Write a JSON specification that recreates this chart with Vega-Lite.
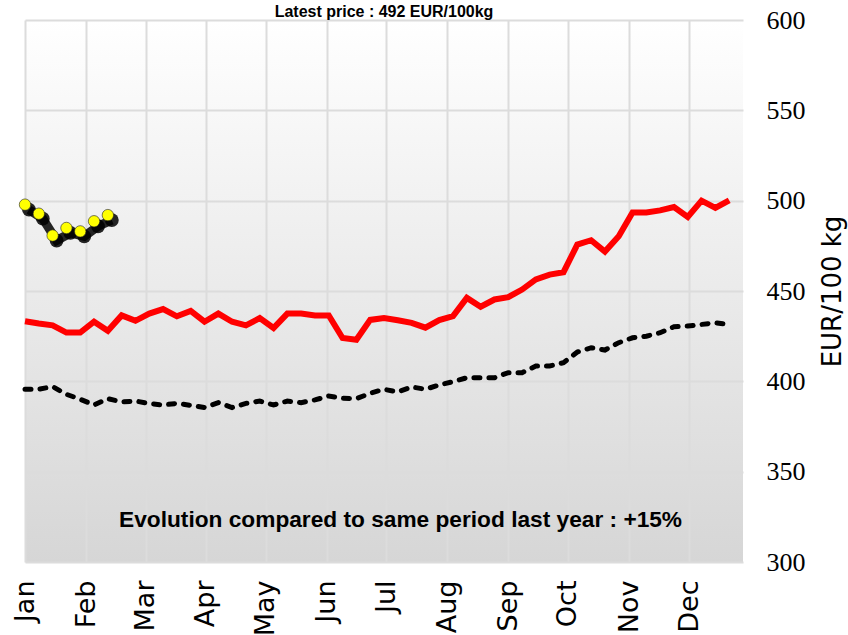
{
  "$schema": "https://vega.github.io/schema/vega-lite/v6.json",
  "width": 718,
  "height": 542,
  "autosize": {"type": "none"},
  "padding": {"left": 25, "top": 20, "right": 105, "bottom": 73},
  "background": "#ffffff",
  "title": {
    "text": "Latest price : 492 EUR/100kg",
    "font": "Liberation Sans",
    "fontWeight": "bold",
    "fontSize": 16,
    "color": "#000000",
    "frame": "group",
    "offset": 1,
    "dy": 14
  },
  "config": {
    "view": {
      "stroke": null,
      "fill": {
        "gradient": "linear",
        "x1": 0, "y1": 0, "x2": 0, "y2": 1,
        "stops": [
          {"offset": 0, "color": "#ffffff"},
          {"offset": 1, "color": "#d6d6d6"}
        ]
      }
    },
    "axis": {
      "gridColor": "#dcdcdc",
      "gridWidth": 2,
      "domain": false,
      "ticks": false,
      "tickSize": 0,
      "labelColor": "#000000",
      "titleColor": "#000000"
    }
  },
  "datasets": {
    "previous": [
      {"week": 1, "price": 433.3}, {"week": 2, "price": 432}, {"week": 3, "price": 431}, {"week": 4, "price": 427},
      {"week": 5, "price": 427}, {"week": 6, "price": 433}, {"week": 7, "price": 428}, {"week": 8, "price": 436.5},
      {"week": 9, "price": 433.5}, {"week": 10, "price": 437.5}, {"week": 11, "price": 440}, {"week": 12, "price": 436},
      {"week": 13, "price": 439}, {"week": 14, "price": 433}, {"week": 15, "price": 437.5}, {"week": 16, "price": 433},
      {"week": 17, "price": 431}, {"week": 18, "price": 435}, {"week": 19, "price": 429.5}, {"week": 20, "price": 437.5},
      {"week": 21, "price": 437.5}, {"week": 22, "price": 436.5}, {"week": 23, "price": 436.5}, {"week": 24, "price": 424},
      {"week": 25, "price": 423}, {"week": 26, "price": 434}, {"week": 27, "price": 435}, {"week": 28, "price": 433.8},
      {"week": 29, "price": 432.4}, {"week": 30, "price": 429.7}, {"week": 31, "price": 433.9}, {"week": 32, "price": 436.1},
      {"week": 33, "price": 446.2}, {"week": 34, "price": 441.3}, {"week": 35, "price": 445.3}, {"week": 36, "price": 446.6},
      {"week": 37, "price": 450.8}, {"week": 38, "price": 456.4}, {"week": 39, "price": 459.1}, {"week": 40, "price": 460.4},
      {"week": 41, "price": 475.7}, {"week": 42, "price": 478.1}, {"week": 43, "price": 471.8}, {"week": 44, "price": 480.3},
      {"week": 45, "price": 493.5}, {"week": 46, "price": 493.5}, {"week": 47, "price": 494.6}, {"week": 48, "price": 496.5},
      {"week": 49, "price": 491}, {"week": 50, "price": 500}, {"week": 51, "price": 496}, {"week": 52, "price": 500.2}
    ],
    "average": [
      {"week": 1, "price": 395.6}, {"week": 2, "price": 395.6}, {"week": 3, "price": 397.1}, {"week": 4, "price": 392.8},
      {"week": 5, "price": 390.1}, {"week": 6, "price": 386.9}, {"week": 7, "price": 390.4}, {"week": 8, "price": 388.6},
      {"week": 9, "price": 389.1}, {"week": 10, "price": 387.7}, {"week": 11, "price": 386.9}, {"week": 12, "price": 387.8},
      {"week": 13, "price": 386.7}, {"week": 14, "price": 385.5}, {"week": 15, "price": 388.2}, {"week": 16, "price": 385.5},
      {"week": 17, "price": 387.8}, {"week": 18, "price": 389.1}, {"week": 19, "price": 386.9}, {"week": 20, "price": 389.1},
      {"week": 21, "price": 388.2}, {"week": 22, "price": 389.7}, {"week": 23, "price": 391.9}, {"week": 24, "price": 390.6},
      {"week": 25, "price": 390.4}, {"week": 26, "price": 393.4}, {"week": 27, "price": 395.6}, {"week": 28, "price": 394.1},
      {"week": 29, "price": 396.9}, {"week": 30, "price": 395.6}, {"week": 31, "price": 398}, {"week": 32, "price": 399.8},
      {"week": 33, "price": 402}, {"week": 34, "price": 402}, {"week": 35, "price": 402}, {"week": 36, "price": 404.8},
      {"week": 37, "price": 404.8}, {"week": 38, "price": 408.5}, {"week": 39, "price": 408.5}, {"week": 40, "price": 410.3},
      {"week": 41, "price": 416.2}, {"week": 42, "price": 418.6}, {"week": 43, "price": 417.3}, {"week": 44, "price": 421.4},
      {"week": 45, "price": 424.1}, {"week": 46, "price": 425}, {"week": 47, "price": 426.9}, {"week": 48, "price": 430.2},
      {"week": 49, "price": 430.6}, {"week": 50, "price": 431.5}, {"week": 51, "price": 432.4}, {"week": 52, "price": 431.5}
    ],
    "current": [
      {"week": 1, "price": 497.8}, {"week": 2, "price": 492.8}, {"week": 3, "price": 480.7}, {"week": 4, "price": 484.9},
      {"week": 5, "price": 483}, {"week": 6, "price": 488.6}, {"week": 7, "price": 492}
    ]
  },
  "layer": [
    {
      "data": {"name": "average"},
      "mark": {"type": "line", "color": "#000000", "strokeWidth": 5, "strokeDash": [6, 9], "strokeCap": "round"},
      "encoding": {
        "x": {
          "field": "week",
          "type": "quantitative",
          "scale": {"domain": [1, 53], "nice": false, "zero": false},
          "axis": {
            "values": [1, 5.45, 9.73, 14.08, 18.43, 22.85, 27.16, 31.58, 36.0, 40.31, 44.77, 49.12],
            "labelExpr": "['Jan','Feb','Mar','Apr','May','Jun','Jul','Aug','Sep','Oct','Nov','Dec'][round((datum.value-1)/4.37)]",
            "labelAngle": 270,
            "labelFont": "DejaVu Sans",
            "labelFontSize": 27,
            "labelPadding": 18,
            "labelFlush": false,
            "labelOverlap": false,
            "grid": true,
            "title": null
          }
        },
        "y": {
          "field": "price",
          "type": "quantitative",
          "scale": {"domain": [300, 600], "nice": false, "zero": false},
          "axis": {
            "orient": "right",
            "values": [300, 350, 400, 450, 500, 550, 600],
            "labelFont": "Liberation Sans Narrow",
            "labelFontSize": 26,
            "labelPadding": 23,
            "grid": true,
            "title": "EUR/100 kg",
            "titleFont": "DejaVu Sans",
            "titleFontSize": 26,
            "titleFontWeight": "normal",
            "titleAngle": 270,
            "titlePadding": 40
          }
        }
      }
    },
    {
      "data": {"name": "previous"},
      "mark": {"type": "line", "color": "#ff0000", "strokeWidth": 6},
      "encoding": {
        "x": {"field": "week", "type": "quantitative"},
        "y": {"field": "price", "type": "quantitative"}
      }
    },
    {
      "data": {"name": "current"},
      "mark": {"type": "line", "color": "#000000", "strokeWidth": 9, "opacity": 0.85, "xOffset": 4, "yOffset": 5},
      "encoding": {
        "x": {"field": "week", "type": "quantitative"},
        "y": {"field": "price", "type": "quantitative"}
      }
    },
    {
      "data": {"name": "current"},
      "mark": {"type": "circle", "color": "#000000", "size": 190, "opacity": 0.85, "xOffset": 4, "yOffset": 5},
      "encoding": {
        "x": {"field": "week", "type": "quantitative"},
        "y": {"field": "price", "type": "quantitative"}
      }
    },
    {
      "data": {"name": "current"},
      "mark": {"type": "circle", "color": "#ffff00", "size": 130, "opacity": 1, "stroke": "#222222", "strokeWidth": 0.6},
      "encoding": {
        "x": {"field": "week", "type": "quantitative"},
        "y": {"field": "price", "type": "quantitative"}
      }
    },
    {
      "data": {"values": [{"label": "Evolution compared to same period last year : +15%"}]},
      "mark": {"type": "text", "font": "Liberation Sans", "fontWeight": "bold", "fontSize": 22.7, "color": "#000000", "align": "center", "baseline": "middle"},
      "encoding": {
        "x": {"datum": 28.2, "type": "quantitative"},
        "y": {"datum": 323, "type": "quantitative"},
        "text": {"field": "label", "type": "nominal"}
      }
    }
  ]
}
